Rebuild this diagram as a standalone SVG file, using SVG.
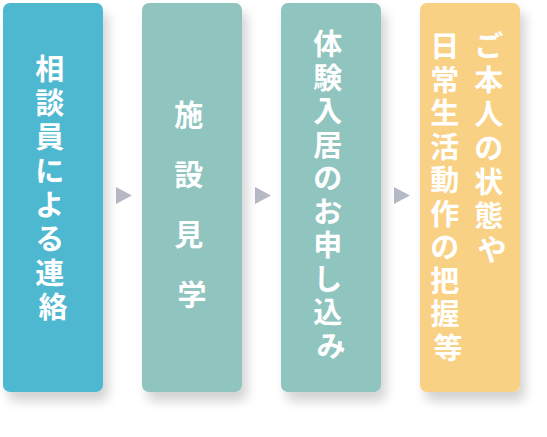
<svg xmlns="http://www.w3.org/2000/svg" width="547" height="437" viewBox="0 0 547 437">
<defs>
<filter id="sh" x="-30%" y="-10%" width="160%" height="130%">
<feGaussianBlur in="SourceAlpha" stdDeviation="6"/>
<feOffset dx="5" dy="9" result="b"/>
<feComponentTransfer><feFuncA type="linear" slope="0.18"/></feComponentTransfer>
<feMerge><feMergeNode/><feMergeNode in="SourceGraphic"/></feMerge>
</filter>
</defs>
<style>
.box{filter:url(#sh);}
.b1{fill:#50b8d1;}
.b2{fill:#8fc4bf;}
.b4{fill:#f9d184;}
.t{fill:#ffffff;font-family:"Noto Sans CJK JP","Noto Sans",sans-serif;font-weight:700;font-size:29px;text-anchor:middle;}
.arr{fill:#b5b9c3;}
</style>
<rect width="547" height="437" fill="#ffffff"/>
<g id="connectors">
<polygon class="arr" points="116,187 132,195.5 116,204"/>
<polygon class="arr" points="255,187 271,195.5 255,204"/>
<polygon class="arr" points="394,187 410,195.5 394,204"/>
</g>
<g id="node1">
<rect class="box b1" x="3" y="3" width="100" height="389" rx="7"/>
<text class="t">
<tspan x="53" y="80">相</tspan>
<tspan x="53" y="114">談</tspan>
<tspan x="53" y="148">員</tspan>
<tspan x="53" y="182">に</tspan>
<tspan x="53" y="216">よ</tspan>
<tspan x="53" y="250">る</tspan>
<tspan x="53" y="284">連</tspan>
<tspan x="53" y="318">絡</tspan>
</text>
</g>
<g id="node2">
<rect class="box b2" x="142" y="3" width="100" height="389" rx="7"/>
<text class="t">
<tspan x="192" y="126">施</tspan>
<tspan x="192" y="186">設</tspan>
<tspan x="192" y="246">見</tspan>
<tspan x="192" y="306">学</tspan>
</text>
</g>
<g id="node3">
<rect class="box b2" x="281" y="3" width="100" height="389" rx="7"/>
<text class="t">
<tspan x="331" y="55">体</tspan>
<tspan x="331" y="88.5">験</tspan>
<tspan x="331" y="122">入</tspan>
<tspan x="331" y="155.5">居</tspan>
<tspan x="331" y="189">の</tspan>
<tspan x="331" y="222.5">お</tspan>
<tspan x="331" y="256">申</tspan>
<tspan x="331" y="289.5">し</tspan>
<tspan x="331" y="323">込</tspan>
<tspan x="331" y="356.5">み</tspan>
</text>
</g>
<g id="node4">
<rect class="box b4" x="420" y="3" width="100" height="389" rx="7"/>
<text class="t">
<tspan x="492" y="57">ご</tspan>
<tspan x="492" y="91">本</tspan>
<tspan x="492" y="125">人</tspan>
<tspan x="492" y="159">の</tspan>
<tspan x="492" y="193">状</tspan>
<tspan x="492" y="227">態</tspan>
<tspan x="492" y="261">や</tspan>
</text>
<text class="t">
<tspan x="448" y="57">日</tspan>
<tspan x="448" y="90.5">常</tspan>
<tspan x="448" y="124">生</tspan>
<tspan x="448" y="157.5">活</tspan>
<tspan x="448" y="191">動</tspan>
<tspan x="448" y="224.5">作</tspan>
<tspan x="448" y="258">の</tspan>
<tspan x="448" y="291.5">把</tspan>
<tspan x="448" y="325">握</tspan>
<tspan x="448" y="358.5">等</tspan>
</text>
</g>
</svg>
